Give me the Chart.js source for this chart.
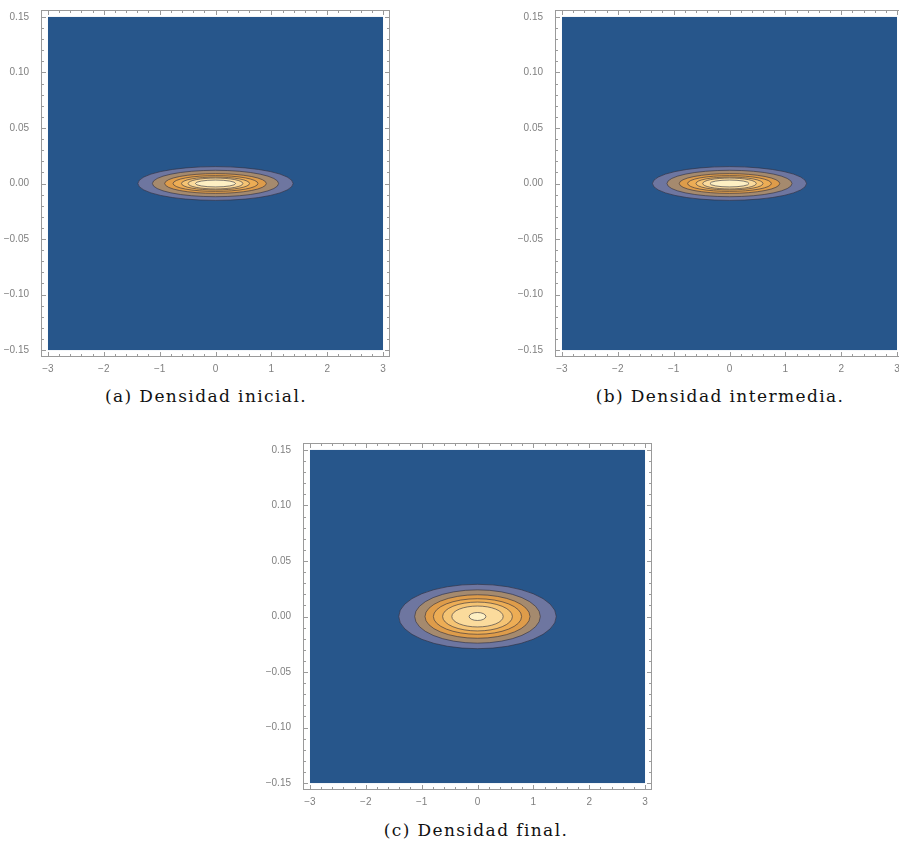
<!DOCTYPE html>
<html><head><meta charset="utf-8">
<script src="https://cdn.jsdelivr.net/npm/chart.js@4"></script>
<style>
body{margin:0;width:899px;height:844px;overflow:hidden;background:#fff;position:relative}
.p{position:absolute}
.cap{position:absolute;font-family:"DejaVu Serif",serif;font-size:17px;line-height:20px;color:#111;transform:translateX(-50%);white-space:nowrap;letter-spacing:1.4px}
</style></head><body>
<div class="p" style="left:0;top:0"><canvas id="ca" width="400" height="380"></canvas></div>
<div class="p" style="left:514px;top:0"><canvas id="cb" width="400" height="380"></canvas></div>
<div class="p" style="left:262px;top:433px"><canvas id="cc" width="400" height="380"></canvas></div>
<div class="cap" style="left:206px;top:386px">(a) Densidad inicial.</div>
<div class="cap" style="left:720px;top:386px">(b) Densidad intermedia.</div>
<div class="cap" style="left:476px;top:820px">(c) Densidad final.</div>
<script>
// axis ticks
const xTicks = [-3, -2, -1, 0, 1, 2, 3];
const xTickLabels = ['\u22123', '\u22122', '\u22121', '0', '1', '2', '3'];
const yTicks = [-0.15, -0.10, -0.05, 0, 0.05, 0.10, 0.15];
const yTickLabels = ['\u22120.15', '\u22120.10', '\u22120.05', '0.00', '0.05', '0.10', '0.15'];

// contour bands, outer to inner
const levelColors = ['#6E76A0', '#A58A6E', '#DE9C4A', '#EDAD55', '#F5C474', '#FBDB9C', '#FEF0C3'];

// contour ellipses: half-widths (x units) and half-heights (y units)
const initialHalfX = [1.39, 1.13, 0.91, 0.76, 0.61, 0.49, 0.36];
const initialHalfY = [0.0152, 0.0119, 0.0089, 0.0071, 0.0058, 0.0049, 0.0031];
const middleHalfX = [1.38, 1.12, 0.90, 0.75, 0.60, 0.48, 0.35];
const middleHalfY = [0.0152, 0.0119, 0.0089, 0.0071, 0.0058, 0.0049, 0.0031];
const finalHalfX = [1.41, 1.125, 0.94, 0.79, 0.625, 0.46, 0.15];
const finalHalfY = [0.029, 0.024, 0.0196, 0.016, 0.013, 0.0094, 0.0036];

const BG = '#27568B';
const FRAME = '#9a9a9a';

const contourPlugin = {
  id: 'contour',
  beforeDatasetsDraw(chart) {
    const ctx = chart.ctx, xs = chart.scales.x, ys = chart.scales.y;
    ctx.save();
    const l = xs.getPixelForValue(-3), r = xs.getPixelForValue(3);
    const t = ys.getPixelForValue(0.15), b = ys.getPixelForValue(-0.15);
    ctx.fillStyle = BG;
    ctx.fillRect(l, t, r - l, b - t);
    chart.data.datasets.forEach(ds => {
      const p = ds.data[0];
      const cx = xs.getPixelForValue(p.x), cy = ys.getPixelForValue(p.y);
      const rx = Math.abs(xs.getPixelForValue(p.x + ds.rx) - cx);
      const ry = Math.abs(ys.getPixelForValue(p.y + ds.ry) - cy);
      ctx.beginPath();
      ctx.ellipse(cx, cy, rx, ry, 0, 0, Math.PI * 2);
      ctx.fillStyle = ds.backgroundColor;
      ctx.fill();
      ctx.lineWidth = 1;
      ctx.strokeStyle = 'rgba(45,45,60,0.6)';
      ctx.stroke();
    });
    ctx.restore();
  },
  afterDraw(chart) {
    const ctx = chart.ctx, a = chart.chartArea, xs = chart.scales.x, ys = chart.scales.y;
    ctx.save();
    ctx.strokeStyle = FRAME;
    ctx.lineWidth = 1;
    ctx.strokeRect(a.left + 0.5, a.top + 0.5, a.right - a.left - 1, a.bottom - a.top - 1);
    ctx.beginPath();
    for (let k = -15; k <= 15; k++) {
      const v = k / 5;
      const px = Math.round(xs.getPixelForValue(v)) + 0.5;
      const len = (k % 5 === 0) ? 5 : 3;
      ctx.moveTo(px, a.bottom); ctx.lineTo(px, a.bottom - len);
      ctx.moveTo(px, a.top); ctx.lineTo(px, a.top + len);
    }
    for (let k = -15; k <= 15; k++) {
      const v = k / 100;
      const py = Math.round(ys.getPixelForValue(v)) + 0.5;
      const len = (k % 5 === 0) ? 5 : 3;
      ctx.moveTo(a.left, py); ctx.lineTo(a.left + len, py);
      ctx.moveTo(a.right, py); ctx.lineTo(a.right - len, py);
    }
    ctx.stroke();
    ctx.restore();
  }
};

function makePanel(id, halfX, halfY) {
  return new Chart(document.getElementById(id), {
    type: 'scatter',
    data: {
      datasets: halfX.map((w, i) => ({
        label: 'level ' + (i + 1),
        data: [{x: 0, y: 0}],
        pointRadius: 0,
        backgroundColor: levelColors[i],
        rx: w,
        ry: halfY[i]
      }))
    },
    options: {
      responsive: false,
      animation: false,
      devicePixelRatio: 1,
      layout: {padding: {top: 7, right: 10, left: 0, bottom: 0}},
      plugins: {legend: {display: false}, tooltip: {enabled: false}},
      scales: {
        x: {
          type: 'linear', min: -3.125, max: 3.125,
          grid: {display: false}, border: {display: false},
          afterBuildTicks: s => { s.ticks = xTicks.map(v => ({value: v})); },
          ticks: {autoSkip: false, maxRotation: 0, padding: -2, color: '#808080',
            font: {family: 'Liberation Sans', size: 10},
            callback: (v, i) => xTickLabels[i]},
          afterFit: s => { s.height = 23; }
        },
        y: {
          type: 'linear', min: -0.15625, max: 0.15625,
          grid: {display: false}, border: {display: false},
          afterBuildTicks: s => { s.ticks = yTicks.map(v => ({value: v})); },
          ticks: {autoSkip: false, padding: 4, color: '#808080',
            font: {family: 'Liberation Sans', size: 10},
            callback: (v, i) => yTickLabels[i]},
          afterFit: s => { s.width = 41; }
        }
      }
    },
    plugins: [contourPlugin]
  });
}

makePanel('ca', initialHalfX, initialHalfY);
makePanel('cb', middleHalfX, middleHalfY);
makePanel('cc', finalHalfX, finalHalfY);
</script>
</body></html>
